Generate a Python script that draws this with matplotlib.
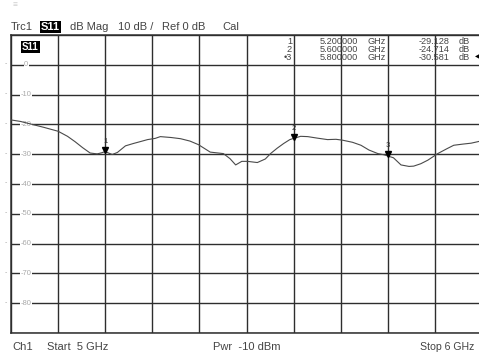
import matplotlib
matplotlib.use("Agg")
import matplotlib.pyplot as plt

plt.rcParams['font.family'] = ['Liberation Sans', 'DejaVu Sans']

# Trace data (GHz, dB)
freq_ghz = [5.000, 5.020, 5.040, 5.070, 5.100, 5.120, 5.136, 5.152, 5.168, 5.183,
            5.193, 5.200, 5.207, 5.215, 5.226, 5.243, 5.260, 5.274, 5.290, 5.306,
            5.317, 5.340, 5.360, 5.380, 5.398, 5.412, 5.423, 5.440, 5.451, 5.465,
            5.477, 5.490, 5.502, 5.523, 5.540, 5.551, 5.565, 5.579, 5.592, 5.600,
            5.615, 5.630, 5.650, 5.672, 5.690, 5.704, 5.725, 5.743, 5.760, 5.779,
            5.792, 5.800, 5.812, 5.828, 5.845, 5.855, 5.870, 5.885, 5.906, 5.925,
            5.940, 5.960, 5.977, 5.994, 6.000]
s11_db = [-18.5, -19.0, -19.8, -21.0, -22.3, -24.0, -25.8, -27.8, -29.6, -29.9,
          -29.5, -29.1, -29.6, -30.1, -29.4, -27.2, -26.4, -25.8, -25.1, -24.7,
          -24.1, -24.4, -24.8, -25.6, -26.8, -28.2, -29.3, -29.6, -29.8, -31.5,
          -33.6, -32.4, -32.4, -32.8, -31.6, -29.8, -28.0, -26.4, -25.1, -24.7,
          -24.0, -24.1, -24.6, -25.1, -25.0, -25.3, -26.0, -27.0, -28.6, -29.8,
          -30.2, -30.6, -31.2, -33.6, -34.1, -34.0, -33.2, -32.0, -29.8, -28.2,
          -27.0, -26.6, -26.3, -25.7, -25.5]

marker_ids = ['1', '2', '3']
marker_freq = [5.2, 5.6, 5.8]
marker_db = [-29.128, -24.714, -30.581]
marker_freq_txt = ['5.200000', '5.600000', '5.800000']
marker_db_txt = ['-29.128', '-24.714', '-30.581']

y_ticks = [0, -10, -20, -30, -40, -50, -60, -70, -80]
y_tick_labels = ['0', '-10', '-20', '-30', '-40', '-50', '-60', '-70', '-80']

W, H = 479, 356
fig = plt.figure(figsize=(W / 100, H / 100), dpi=100)
fig.patch.set_facecolor('white')

x0, x1 = 11, 482
y0, y1 = 35, 333
ax = fig.add_axes([x0 / W, 1 - y1 / H, (x1 - x0) / W, (y1 - y0) / H])
ax.set_xlim(5.0, 6.0)
ax.set_ylim(-90, 10)
ax.set_xticks([5.0 + 0.1 * i for i in range(11)])
ax.set_yticks(list(range(-90, 11, 10)))
ax.grid(True, color='#2e2e2e', linewidth=1.0)
ax.tick_params(length=0, labelbottom=False, labelleft=False)
for sp in ax.spines.values():
    sp.set_color('#2e2e2e')
    sp.set_linewidth(1.1)

ax.plot(freq_ghz, s11_db, color='#4a4a4a', linewidth=0.8, zorder=3)

# markers
for mid, mf, md in zip(marker_ids, marker_freq, marker_db):
    ax.plot([mf], [md + 0.6], marker='v', color='black', markersize=4.5, zorder=4)
    ax.text(mf, md + 2.3, mid, fontsize=5.5, color='#333333', ha='center', va='bottom', zorder=4)

# y tick labels inside the plot
for v, lab in zip(y_ticks, y_tick_labels):
    ax.text(5.032, v, lab, fontsize=5.5, color='#aaaaaa', ha='center', va='center', zorder=2,
            bbox=dict(facecolor='white', edgecolor='none', pad=0.3))
    fig.text(6 / W, 1 - (64 - v * 2.98) / H, '-', fontsize=5, color='#aaaaaa', ha='center', va='center')

# S11 label inside
fig.text(22 / W, 1 - 47 / H, 'S11', fontsize=7, color='white', fontweight='bold', ha='left', va='center',
         bbox=dict(facecolor='black', edgecolor='none', pad=0.8))

# header
hy = 1 - 27 / H
tc = '#444444'
fig.text(11 / W, hy, 'Trc1', fontsize=8, color=tc, va='center')
fig.text(41 / W, hy, 'S11', fontsize=8, color='white', fontweight='bold', va='center',
         bbox=dict(facecolor='black', edgecolor='none', pad=0.6))
fig.text(70 / W, hy, 'dB Mag', fontsize=8, color=tc, va='center')
fig.text(118 / W, hy, '10 dB /', fontsize=8, color=tc, va='center')
fig.text(162 / W, hy, 'Ref 0 dB', fontsize=8, color=tc, va='center')
fig.text(222 / W, hy, 'Cal', fontsize=8, color=tc, va='center')
fig.text(13 / W, 1 - 6 / H, '\u2261', fontsize=6, color='#cccccc', va='center')

# marker table
rows_y = [41, 49.5, 58]
tf = 6.6
for i, ry in enumerate(rows_y):
    yy = 1 - ry / H
    lab = marker_ids[i] if i < 2 else '\u2022' + marker_ids[i]
    fig.text(292 / W, yy, lab, fontsize=tf, color=tc, ha='right', va='center')
    fig.text(358 / W, yy, marker_freq_txt[i], fontsize=tf, color=tc, ha='right', va='center')
    fig.text(367 / W, yy, 'GHz', fontsize=tf, color=tc, ha='left', va='center')
    fig.text(449 / W, yy, marker_db_txt[i], fontsize=tf, color=tc, ha='right', va='center')
    fig.text(459 / W, yy, 'dB', fontsize=tf, color=tc, ha='left', va='center')
fig.text(477 / W, 1 - 57 / H, '\u25c0', fontsize=4, color='black', ha='center', va='center')

# footer
fy = 1 - 347 / H
fig.text(12 / W, fy, 'Ch1', fontsize=8, color=tc, va='center')
fig.text(47 / W, fy, 'Start  5 GHz', fontsize=8, color=tc, va='center')
fig.text(213 / W, fy, 'Pwr  -10 dBm', fontsize=8, color=tc, va='center')
fig.text(420 / W, fy, 'Stop 6 GHz', fontsize=7.6, color=tc, va='center')

fig.savefig('out.png', dpi=100, facecolor='white')
